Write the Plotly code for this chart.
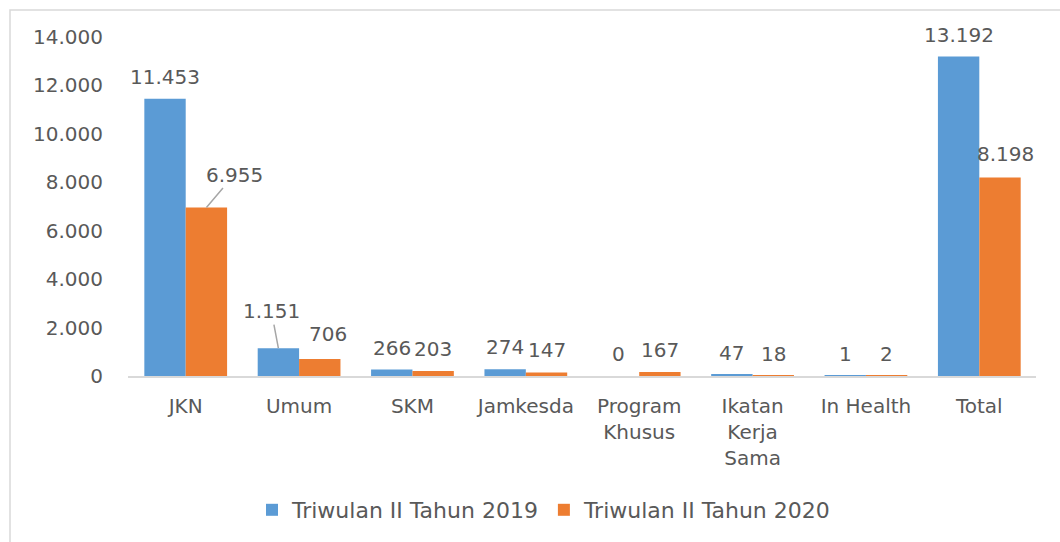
import plotly.graph_objects as go

categories = ["JKN", "Umum", "SKM", "Jamkesda", "Program<br>Khusus",
              "Ikatan<br>Kerja<br>Sama", "In Health", "Total"]
series_names = ["Triwulan II Tahun 2019", "Triwulan II Tahun 2020"]
values_2019 = [11453, 1151, 266, 274, 0, 47, 1, 13192]
values_2020 = [6955, 706, 203, 147, 167, 18, 2, 8198]
y_ticks = [0, 2000, 4000, 6000, 8000, 10000, 12000, 14000]

BLUE = "#5B9BD5"
ORANGE = "#ED7D31"
TXT = "#595959"
FONT = "DejaVu Sans"
FS = 20

W, H = 1060, 542
L, R, T, B = 128, 24, 37, 165
plot_w = W - L - R
plot_h = H - T - B
BARGAP = 0.27
half = plot_w / len(categories) * (1 - BARGAP) / 4  # half bar width in px


def fmt(v):
    return f"{v:,}".replace(",", ".")


fig = go.Figure()
fig.add_trace(go.Bar(x=categories, y=values_2019, name=series_names[0],
                     marker=dict(color=BLUE, line=dict(width=0))))
fig.add_trace(go.Bar(x=categories, y=values_2020, name=series_names[1],
                     marker=dict(color=ORANGE, line=dict(width=0))))

# special label placements (leader lines / nudges) keyed by (series, index)
special = {
    (1, 0): dict(arrow=True, ax=28, ay=-33),
    (0, 1): dict(arrow=True, ax=-7, ay=-37),
    (1, 1): dict(arrow=False, dx=8, dy=25),
    (1, 7): dict(arrow=False, dx=5, dy=23),
}

annotations = []
for s, vals in enumerate([values_2019, values_2020]):
    xs = -half if s == 0 else half
    for i, v in enumerate(vals):
        sp = special.get((s, i))
        base = dict(x=categories[i], y=v, xref="x", yref="y", text=fmt(v),
                    font=dict(family=FONT, size=FS, color=TXT))
        if sp and sp.get("arrow"):
            base.update(showarrow=True, ax=sp["ax"], ay=sp["ay"], xshift=xs,
                        arrowhead=0, arrowwidth=1.5, arrowcolor="#A6A6A6",
                        standoff=0, startstandoff=0)
        elif sp:
            base.update(showarrow=False, xshift=xs + sp["dx"], yshift=sp["dy"],
                        xanchor="center", yanchor="middle")
        else:
            base.update(showarrow=False, xshift=xs, yshift=22,
                        xanchor="center", yanchor="middle")
        annotations.append(base)


# chart border (pixel -> paper)
def px_x(p):
    return (p - L) / plot_w


def px_y(p):
    return (H - B - p) / plot_h


shapes = [dict(type="rect", xref="paper", yref="paper",
               x0=px_x(10), x1=px_x(1075), y0=px_y(560), y1=px_y(10),
               line=dict(color="#D9D9D9", width=1.5), fillcolor="rgba(0,0,0,0)",
               layer="below")]

fig.update_layout(
    width=W, height=H, autosize=False,
    margin=dict(l=L, r=R, t=T, b=B, pad=0),
    paper_bgcolor="white", plot_bgcolor="white",
    barmode="group", bargap=BARGAP, bargroupgap=0,
    separators=",.",
    font=dict(family=FONT, size=FS, color=TXT),
    showlegend=True,
    legend=dict(orientation="h", x=px_x(544), xanchor="center",
                y=px_y(510), yanchor="middle",
                font=dict(family=FONT, size=22, color=TXT),
                itemwidth=30, tracegroupgap=0, bgcolor="rgba(0,0,0,0)"),
    annotations=annotations,
    shapes=shapes,
)
fig.update_xaxes(showline=True, linecolor="#D9D9D9", linewidth=2,
                 ticks="", showgrid=False, zeroline=False,
                 tickfont=dict(family=FONT, size=FS, color=TXT),
                 ticklabelstandoff=11, fixedrange=True)
fig.update_yaxes(range=[0, 14000], tickvals=y_ticks, tickformat=",d",
                 showgrid=False, zeroline=False, showline=False, ticks="",
                 tickfont=dict(family=FONT, size=FS, color=TXT),
                 ticklabelstandoff=24, fixedrange=True)

fig.write_html("out.html", config={"displayModeBar": False},
               post_script="document.body.style.margin='0';document.body.style.overflow='hidden';")
